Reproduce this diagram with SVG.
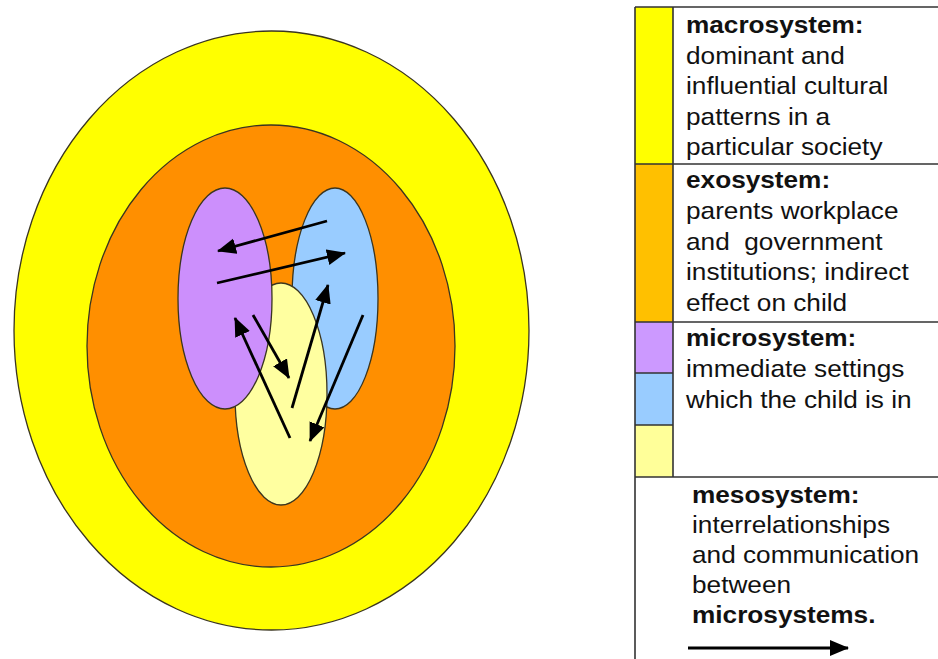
<svg xmlns="http://www.w3.org/2000/svg" width="938" height="659" viewBox="0 0 938 659">
<style>
.ring{stroke:#3a3520;stroke-width:1.3}
.arr{stroke:#000;stroke-width:2.8;fill:none;marker-end:url(#ah)}
.t{font-family:"Liberation Sans",Arial,sans-serif;font-size:24px;fill:#111}
.b{font-weight:bold}
.grid{stroke:#333;stroke-width:1.6;fill:none}
</style>
<defs>
<marker id="ah" markerUnits="userSpaceOnUse" markerWidth="20" markerHeight="18" refX="18" refY="8" orient="auto">
<path d="M0,0 L19,8 L0,16 Z" fill="#000"/>
</marker>
</defs>
<rect width="938" height="659" fill="#fff"/>
<g id="macrosystem"><ellipse class="ring" cx="271.5" cy="330.5" rx="257.5" ry="299.5" fill="#ffff00"/></g>
<g id="exosystem"><ellipse class="ring" cx="271" cy="346" rx="184" ry="221" fill="#ff8f00"/></g>
<g id="micro-blue"><ellipse class="ring" cx="335" cy="298.5" rx="43" ry="110.5" fill="#99ccff"/></g>
<g id="micro-yellow"><ellipse class="ring" cx="281" cy="394" rx="46" ry="111" fill="#ffffa0"/></g>
<g id="micro-purple"><ellipse class="ring" cx="225" cy="298.5" rx="47" ry="110.5" fill="#cc8ffc"/></g>
<g id="connectors">
<line class="arr" x1="327" y1="221" x2="218" y2="251"/>
<line class="arr" x1="217" y1="283" x2="345" y2="253"/>
<line class="arr" x1="290" y1="438" x2="235" y2="318"/>
<line class="arr" x1="253" y1="315" x2="289" y2="378"/>
<line class="arr" x1="292" y1="408" x2="328" y2="285"/>
<line class="arr" x1="363" y1="315" x2="310" y2="441"/>
</g>
<g id="legend">
<rect x="635" y="7" width="38" height="157" fill="#ffff00"/>
<rect x="635" y="164" width="38" height="158" fill="#ffc000"/>
<rect x="635" y="322" width="38" height="51" fill="#cc99ff"/>
<rect x="635" y="373" width="38" height="52" fill="#99ccff"/>
<rect x="635" y="425" width="38" height="52" fill="#ffff99"/>
<path class="grid" d="M635,7 H940 M635,7 V659 M673,7 V477 M635,164 H940 M635,322 H940 M635,373 H673 M635,425 H673 M635,477 H940"/>
<g transform="translate(686,0) scale(1.092,1)">
<text class="t b" x="0" y="33">macrosystem:</text>
<text class="t" x="0" y="64">dominant and</text>
<text class="t" x="0" y="94">influential cultural</text>
<text class="t" x="0" y="125">patterns in a</text>
<text class="t" x="0" y="155">particular society</text>
<text class="t b" x="0" y="188">exosystem:</text>
<text class="t" x="0" y="219">parents workplace</text>
<text class="t" x="0" y="250" xml:space="preserve">and  government</text>
<text class="t" x="0" y="280">institutions; indirect</text>
<text class="t" x="0" y="311">effect on child</text>
<text class="t b" x="0" y="346">microsystem:</text>
<text class="t" x="0" y="377">immediate settings</text>
<text class="t" x="0" y="408">which the child is in</text>
</g>
<g transform="translate(692,0) scale(1.092,1)">
<text class="t b" x="0" y="503">mesosystem:</text>
<text class="t" x="0" y="533">interrelationships</text>
<text class="t" x="0" y="563">and communication</text>
<text class="t" x="0" y="593">between</text>
<text class="t b" x="0" y="623">microsystems.</text>
</g>
<line class="arr" x1="688" y1="648" x2="848" y2="648"/>
</g>
</svg>
